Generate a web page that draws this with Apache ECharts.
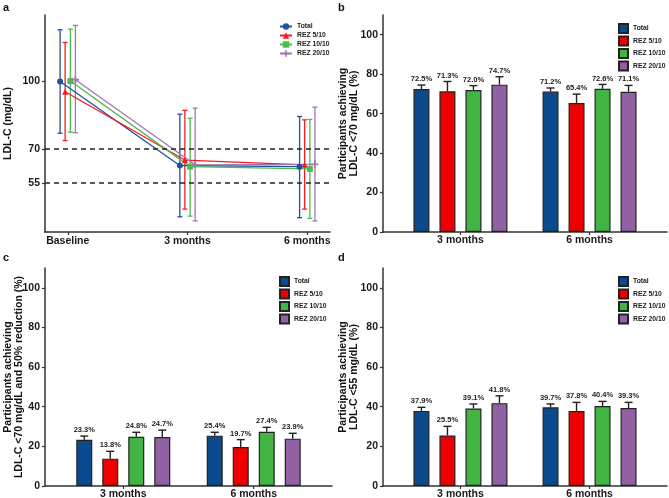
<!DOCTYPE html>
<html>
<head>
<meta charset="utf-8">
<script src="https://cdn.jsdelivr.net/npm/echarts@6.0.0/dist/echarts.min.js"></script>
<style>
  html, body { margin: 0; padding: 0; background: #fff; }
  #wrap { position: relative; width: 669px; height: 498px; }
  .panel { position: absolute; }
</style>
</head>
<body>
<div id="wrap">
  <div id="pa" class="panel" style="left:0;top:0;width:335px;height:250px"></div>
  <div id="pb" class="panel" style="left:335px;top:0;width:334px;height:250px"></div>
  <div id="pc" class="panel" style="left:0;top:250px;width:335px;height:248px"></div>
  <div id="pd" class="panel" style="left:335px;top:250px;width:334px;height:248px"></div>
</div>
<script>
const groups = ["Total", "REZ 5/10", "REZ 10/10", "REZ 20/10"];
const timepoints = ["Baseline", "3 months", "6 months"];
const followups = ["3 months", "6 months"];

// panel a: LDL-C mean and error bar ends, per group: [baseline, 3 m, 6 m]
const ldlMean = [[99.7, 62.7, 62.2], [95.2, 65.1, 63.0], [99.9, 62.2, 61.2], [100.5, 63.0, 63.2]];
const ldlLow  = [[76.9, 40.1, 39.7], [73.7, 43.5, 43.5], [77.4, 40.4, 39.4], [77.1, 38.3, 38.3]];
const ldlHigh = [[122.5, 85.3, 84.3], [116.9, 87.0, 82.8], [122.8, 83.5, 83.0], [124.4, 88.0, 88.4]];
const ldlRefs = [70, 55];
const ldlTicks = [55, 70, 100];

// panels b-d: % achieving, per group: [3 m, 6 m], plus upper end of error bar
const lt70 = [[72.5, 71.2], [71.3, 65.4], [72.0, 72.6], [74.7, 71.1]];
const lt70Up = [[74.5, 73.0], [76.3, 69.9], [74.2, 74.8], [78.7, 74.3]];
const lt70r50 = [[23.3, 25.4], [13.8, 19.7], [24.8, 27.4], [24.7, 23.9]];
const lt70r50Up = [[25.2, 27.1], [17.5, 23.4], [27.1, 29.6], [28.2, 26.6]];
const lt55 = [[37.9, 39.7], [25.5, 37.8], [39.1, 40.4], [41.8, 39.3]];
const lt55Up = [[39.7, 41.4], [30.1, 42.2], [41.4, 42.7], [45.5, 42.2]];
const pctTicks = [0, 20, 40, 60, 80, 100];

const FONT = "'Liberation Sans', Arial, sans-serif";
const barColors = ["#0b4a8c", "#ee0000", "#41b444", "#9162a3"];
const lineColors = ["#1d53a0", "#f51c1c", "#4cbb4c", "#a475b4"];
const symbols = ["circle", "triangle", "rect", "path://M3,0H5V3H8V5H5V8H3V5H0V3H3Z"];
const DODGE_A = [-0.064, -0.022, 0.022, 0.064];
const BAR_W = 16, BAR_STEP = 26;
const AXIS_COL = "#333";

function axisBase() {
  return {
    axisLine: { show: true, onZero: false, lineStyle: { color: AXIS_COL, width: 1.5 } },
    axisTick: { show: true, length: 3, lineStyle: { color: AXIS_COL, width: 1.2 } },
    splitLine: { show: false },
    axisLabel: { fontFamily: FONT, fontWeight: "bold", color: "#1a1a1a", fontSize: 10.5 }
  };
}

function panelTitle(letter) {
  return { text: letter, left: 3, top: 2, padding: 0, textStyle: { fontFamily: FONT, fontSize: 11, fontWeight: "bold", color: "#111" } };
}

function drawLinePanel() {
  const chart = echarts.init(document.getElementById("pa"));
  const series = [];
  groups.forEach((g, i) => {
    series.push({
      name: g, type: "line", z: 4,
      data: ldlMean[i].map((v, j) => [j + 1 + DODGE_A[i], v]),
      symbol: symbols[i], symbolSize: i == 3 ? 7 : 6,
      lineStyle: { color: lineColors[i], width: 1.3 },
      itemStyle: { color: lineColors[i] },
      markLine: i == 0 ? {
        silent: true, symbol: "none", label: { show: false },
        lineStyle: { color: "#222", type: [5, 4], width: 1.5 },
        data: ldlRefs.map(v => ({ yAxis: v }))
      } : undefined
    });
  });
  groups.forEach((g, i) => {
    series.push({
      type: "custom", z: 3,
      data: ldlLow[i].map((lo, j) => [j + 1 + DODGE_A[i], lo, ldlHigh[i][j]]),
      encode: { x: 0, y: [1, 2] },
      renderItem: function (params, api) {
        const lo = api.coord([api.value(0), api.value(1)]);
        const hi = api.coord([api.value(0), api.value(2)]);
        const st = { stroke: lineColors[i], lineWidth: 1.3 };
        return {
          type: "group", children: [
            { type: "line", shape: { x1: lo[0], y1: lo[1], x2: hi[0], y2: hi[1] }, style: st },
            { type: "line", shape: { x1: lo[0] - 2.5, y1: lo[1], x2: lo[0] + 2.5, y2: lo[1] }, style: st },
            { type: "line", shape: { x1: hi[0] - 2.5, y1: hi[1], x2: hi[0] + 2.5, y2: hi[1] }, style: st }
          ]
        };
      }
    });
  });
  const xa = axisBase(), ya = axisBase();
  chart.setOption({
    animation: false,
    title: panelTitle("a"),
    grid: { left: 45, top: 15, right: 5, bottom: 18, outerBoundsMode: "none", containLabel: false },
    legend: {
      data: groups, orient: "vertical", left: 279, top: 23, padding: 0, itemWidth: 12, itemHeight: 8, itemGap: 2,
      selectedMode: false,
      textStyle: { fontFamily: FONT, fontSize: 6.8, fontWeight: "bold", color: "#222" }
    },
    xAxis: Object.assign(xa, {
      type: "value", min: 0.81, max: 3.19,
      axisTick: Object.assign(xa.axisTick, { customValues: [1, 2, 3] }),
      axisLabel: Object.assign(xa.axisLabel, { customValues: [1, 2, 3], margin: 4, formatter: v => timepoints[Math.round(v) - 1] })
    }),
    yAxis: Object.assign(ya, {
      type: "value", min: 33.4, max: 129,
      axisTick: Object.assign(ya.axisTick, { customValues: ldlTicks }),
      axisLabel: Object.assign(ya.axisLabel, { customValues: ldlTicks, margin: 5 }),
      name: "LDL-C (mg/dL)", nameLocation: "middle", nameGap: 31, nameMoveOverlap: false,
      nameTextStyle: { fontFamily: FONT, fontWeight: "bold", fontSize: 10.5, color: "#111" }
    }),
    series: series
  });
}

function drawBarPanel(id, letter, yName, vals, ups, lay) {
  const chart = echarts.init(document.getElementById(id));
  const series = [];
  groups.forEach((g, i) => {
    series.push({
      type: "custom", z: 1,
      data: vals[i].map((v, j) => [j + 1, v, ups[i][j]]),
      encode: { x: 0, y: [1, 2] },
      renderItem: function (params, api) {
        const p0 = api.coord([api.value(0), api.value(1)]);
        const p1 = api.coord([api.value(0), api.value(2)]);
        const cx = p0[0] + (i - 1.5) * BAR_STEP;
        const st = { stroke: "#222", lineWidth: 1.4 };
        return {
          type: "group", children: [
            { type: "line", shape: { x1: cx, y1: p0[1], x2: cx, y2: p1[1] }, style: st },
            { type: "line", shape: { x1: cx - 4, y1: p1[1], x2: cx + 4, y2: p1[1] }, style: st },
            { type: "text", z2: 10, x: cx, y: p1[1] - 2, style: {
              text: api.value(1).toFixed(1) + "%", align: "center", verticalAlign: "bottom",
              fontFamily: FONT, fontWeight: "bold", fontSize: 7.5, fill: "#222" } }
          ]
        };
      }
    });
  });
  groups.forEach((g, i) => {
    series.push({
      name: g, type: "bar", z: 3, barWidth: BAR_W, barGap: ((BAR_STEP - BAR_W) / BAR_W * 100) + "%",
      data: vals[i].map((v, j) => [j + 1, v]),
      itemStyle: { color: barColors[i], borderColor: "#222", borderWidth: 1.2 }
    });
  });
  const xa = axisBase(), ya = axisBase();
  chart.setOption({
    animation: false,
    title: panelTitle(letter),
    grid: Object.assign(lay.grid, { outerBoundsMode: "none", containLabel: false }),
    legend: {
      data: groups, orient: "vertical", left: lay.legLeft, top: lay.legTop, padding: 0,
      itemWidth: 9, itemHeight: 9, itemGap: 1.5, icon: "rect", selectedMode: false,
      textStyle: { fontFamily: FONT, fontSize: 6.8, fontWeight: "bold", color: "#222" }
    },
    xAxis: Object.assign(xa, {
      type: "value", min: 0.4, max: 2.6,
      axisTick: Object.assign(xa.axisTick, { customValues: [1, 2] }),
      axisLabel: Object.assign(xa.axisLabel, { customValues: [1, 2], margin: 3, formatter: v => followups[Math.round(v) - 1] })
    }),
    yAxis: Object.assign(ya, {
      type: "value", min: 0, max: 110,
      axisTick: Object.assign(ya.axisTick, { customValues: pctTicks }),
      axisLabel: Object.assign(ya.axisLabel, { customValues: pctTicks, margin: 5 }),
      name: yName, nameLocation: "middle", nameGap: lay.nameGap, nameMoveOverlap: false,
      nameTextStyle: { fontFamily: FONT, fontWeight: "bold", fontSize: 10.5, color: "#111", lineHeight: 11 }
    }),
    series: series
  });
}

drawLinePanel();
drawBarPanel("pb", "b", "Participants achieving\nLDL-C <70 mg/dL (%)", lt70, lt70Up,
  { grid: { left: 48, top: 15, right: 2, bottom: 18 }, legLeft: 283, legTop: 23, nameGap: 23 });
drawBarPanel("pc", "c", "Participants achieving\nLDL-C <70 mg/dL and 50% reduction (%)", lt70r50, lt70r50Up,
  { grid: { left: 45, top: 18, right: 3, bottom: 12 }, legLeft: 279, legTop: 26, nameGap: 20 });
drawBarPanel("pd", "d", "Participants achieving\nLDL-C <55 mg/dL (%)", lt55, lt55Up,
  { grid: { left: 48, top: 18, right: 2, bottom: 12 }, legLeft: 283, legTop: 26, nameGap: 23 });
</script>
</body>
</html>
